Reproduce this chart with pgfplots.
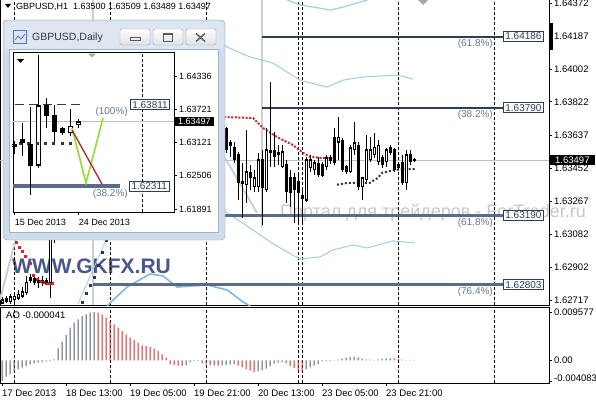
\documentclass[border=0pt]{standalone}
\usepackage{fontspec}
\setmainfont{Liberation Sans}
\usepackage{pgfplots}
\usepackage{pgfplotstable}
\pgfplotsset{compat=1.18}

\definecolor{fibdark}{RGB}{44,62,85}
\definecolor{fiblite}{RGB}{92,106,138}
\definecolor{pctgray}{RGB}{105,120,145}
\definecolor{band}{RGB}{165,203,226}
\definecolor{bandout}{RGB}{128,184,222}
\definecolor{sar}{RGB}{208,40,40}
\definecolor{navy}{RGB}{40,56,82}
\definecolor{aogray}{RGB}{82,92,112}
\definecolor{aored}{RGB}{192,52,52}
\definecolor{trend}{RGB}{208,208,208}
\definecolor{wmblue}{RGB}{72,88,140}
\definecolor{wmgray}{RGB}{200,200,200}
\definecolor{winframe}{RGB}{208,220,234}
\definecolor{wintitle}{RGB}{222,231,241}
\definecolor{winedge}{RGB}{140,160,184}
\definecolor{vgreen}{RGB}{150,220,50}
\definecolor{vred}{RGB}{172,40,40}

\newcommand\fs[1]{\fontsize{#1}{#1}\selectfont}

\tikzset{
  fibbox/.style={anchor=west, draw=fibdark, fill=white, text=fibdark, font=\fs{10},
    inner xsep=2pt, inner ysep=1.5pt, line width=0.8pt},
  fibpct/.style={anchor=north east, inner sep=0pt, yshift=-2.5pt, text=pctgray, font=\fs{10}},
}

% H1 bars (the ones hidden under the daily window are left out)
\pgfplotstableread{
i o h l c
0 1.62701 1.62735 1.62696 1.62718
1 1.62712 1.62740 1.62701 1.62724
2 1.62707 1.62751 1.62696 1.62735
3 1.62718 1.62763 1.62707 1.62740
4 1.62729 1.62774 1.62718 1.62751
5 1.62740 1.62790 1.62729 1.62763
6 1.62757 1.62852 1.62746 1.62818
7 1.62829 1.62863 1.62813 1.62841
8 1.62835 1.62857 1.62802 1.62818
9 1.62824 1.62846 1.62785 1.62813
10 1.62813 1.62852 1.62796 1.62829
11 1.62824 1.62841 1.62802 1.62813
12 1.62813 1.63097 1.62729 1.63075
13 1.63075 1.63275 1.63036 1.63219
56 1.63676 1.63682 1.63538 1.63554
57 1.63593 1.63609 1.63516 1.63581
58 1.63570 1.63598 1.63482 1.63499
59 1.63527 1.63543 1.63275 1.63371
60 1.63376 1.63482 1.63175 1.63365
61 1.63360 1.63665 1.63258 1.63432
62 1.63426 1.63471 1.63332 1.63399
63 1.63348 1.63443 1.63321 1.63399
64 1.63348 1.63538 1.63321 1.63499
65 1.63499 1.63554 1.63136 1.63343
66 1.63332 1.63676 1.63321 1.63554
67 1.63538 1.63932 1.63460 1.63549
68 1.63549 1.63654 1.63460 1.63516
69 1.63527 1.63581 1.63471 1.63538
70 1.63460 1.63581 1.63454 1.63543
71 1.63471 1.63499 1.63258 1.63321
72 1.63399 1.63443 1.63236 1.63315
73 1.63399 1.63426 1.63147 1.63332
74 1.63376 1.63415 1.63147 1.63315
75 1.63298 1.63343 1.63136 1.63286
76 1.63275 1.63516 1.63264 1.63499
77 1.63454 1.63527 1.63432 1.63499
78 1.63443 1.63499 1.63415 1.63482
79 1.63476 1.63516 1.63404 1.63415
80 1.63471 1.63488 1.63404 1.63410
81 1.63460 1.63527 1.63443 1.63510
82 1.63510 1.63527 1.63476 1.63493
83 1.63626 1.63676 1.63471 1.63482
84 1.63598 1.63737 1.63499 1.63626
85 1.63609 1.63620 1.63432 1.63443
86 1.63460 1.63471 1.63421 1.63432
87 1.63432 1.63581 1.63426 1.63566
88 1.63554 1.63710 1.63527 1.63593
89 1.63581 1.63598 1.63332 1.63348
90 1.63348 1.63404 1.63275 1.63399
91 1.63387 1.63637 1.63376 1.63554
92 1.63499 1.63626 1.63488 1.63554
93 1.63527 1.63648 1.63510 1.63570
94 1.63488 1.63609 1.63471 1.63581
95 1.63510 1.63527 1.63454 1.63471
96 1.63488 1.63566 1.63460 1.63554
97 1.63566 1.63581 1.63527 1.63538
98 1.63554 1.63566 1.63432 1.63443
99 1.63471 1.63482 1.63443 1.63454
100 1.63482 1.63527 1.63360 1.63371
101 1.63371 1.63554 1.63332 1.63527
102 1.63527 1.63554 1.63471 1.63488
103 1.63500 1.63509 1.63489 1.63497
}\hone

% daily bars
\pgfplotstableread{
j o h l c
0 1.63031 1.63141 1.62903 1.63068
1 1.63160 1.63472 1.62866 1.63105
2 1.63068 1.63766 1.62149 1.62700
3 1.62700 1.64722 1.62645 1.63785
4 1.63803 1.63932 1.63380 1.63619
5 1.63619 1.63803 1.63123 1.63307
6 1.63362 1.63399 1.63252 1.63289
7 1.63289 1.63730 1.63233 1.63417
8 1.63436 1.63546 1.63380 1.63497
}\daily

% one candle: #1 x, #2 open, #3 high, #4 low, #5 close, #6 body width (pt), #7 hollow width (pt), #8 min hollow body
\newcommand\onecandle[8]{%
  \addplot[black, line width=1pt, forget plot] coordinates {(#1,#4) (#1,#3)};
  \addplot[black, line width=#6pt, forget plot, mark=-, mark size=#6pt/2,
    mark options={line width=1pt}] coordinates {(#1,#2) (#1,#5)};
  \ifdim #5pt>\dimexpr #2pt+#8pt\relax
    \addplot[white, line width=#7pt, forget plot, shorten <=1pt, shorten >=1pt]
      coordinates {(#1,#2) (#1,#5)};
  \fi
}
% #1 table, #2 last row, #3 body width, #4 hollow width, #5 min hollow body
\newcommand\candles[5]{%
  \pgfplotsforeachungrouped \r in {0,...,#2}{%
    \pgfplotstablegetelem{\r}{[index]0}\of#1\let\cx\pgfplotsretval
    \pgfplotstablegetelem{\r}{o}\of#1\let\co\pgfplotsretval
    \pgfplotstablegetelem{\r}{h}\of#1\let\ch\pgfplotsretval
    \pgfplotstablegetelem{\r}{l}\of#1\let\cl\pgfplotsretval
    \pgfplotstablegetelem{\r}{c}\of#1\let\cc\pgfplotsretval
    \edef\temp{\noexpand\onecandle{\cx}{\co}{\ch}{\cl}{\cc}{#3}{#4}{#5}}\temp
  }%
}

\begin{document}
\begin{tikzpicture}[x=1pt,y=1pt]
\useasboundingbox (0,0) rectangle (596,400);
\fill[white] (0,0) rectangle (596,400);

% watermarks
\node[anchor=base west, inner sep=0pt, font=\fs{21}\bfseries, text=wmblue] at (12,127) {WWW.GKFX.RU};
\node[anchor=base west, inner sep=0pt, font=\fs{18}, text=wmgray] at (280,183) {Портал для трейдеров - ForTrader.ru};

% ---------------- H1 price panel ----------------
\begin{axis}[at={(0pt,95pt)}, anchor=south west, scale only axis,
  width=549pt, height=306pt,
  xmin=-0.5, xmax=136.75, ymin=1.62690, ymax=1.64395,
  axis line style={line width=1pt},
  xtick=\empty,
  extra x ticks={3,27,51,74,75,99,123}, extra x tick labels={},
  extra x tick style={grid=major, major tick length=0pt},
  major grid style={black, line width=0.8pt, dash pattern=on 3pt off 2pt},
  scaled y ticks=false,
  ytick={1.62717,1.62902,1.63082,1.63267,1.63452,1.63637,1.63822,1.64002,1.64187,1.64372},
  yticklabels={1.62717,1.62902,1.63082,1.63267,1.63452,1.63637,1.63822,1.64002,1.64187,1.64372},
  ytick pos=right, yticklabel pos=right, tick align=outside, major tick length=3pt,
  ytick style={black, line width=0.8pt},
  yticklabel style={font=\fs{9.5}, anchor=west, inner sep=0pt, xshift=2pt},
]
% current price line
\addplot[black!25, line width=0.8pt] coordinates {(-0.5,1.63497) (136.75,1.63497)};
% tool verticals and trend lines
\addplot[trend, line width=2pt] coordinates {(22.75,1.62690) (22.75,1.64395)};
\addplot[trend, line width=2pt] coordinates {(65,1.64395) (65,1.63119)};
\addplot[trend, line width=2pt] coordinates {(-0.5,1.62718) (4,1.63110)};
\addplot[trend, line width=2pt] coordinates {(55.75,1.63510) (63.75,1.63203)};
% bands
\addplot[band, line width=1pt] coordinates {(55.5,1.64144) (56.25,1.64127) (62,1.64072) (67.75,1.64038) (74.5,1.63943) (81.25,1.63904) (85.25,1.63943) (90.25,1.63960) (98.75,1.63971) (102.75,1.63949)};
\addplot[band, line width=1.2pt] coordinates {(70.25,1.64400) (74.5,1.64361) (79.5,1.64344) (82,1.64333) (85.25,1.64350) (91.25,1.64389) (92.5,1.64400)};
\addplot[band, line width=1pt] coordinates {(55.5,1.63232) (56,1.63208) (62,1.63119) (68.25,1.63024) (74.5,1.62946) (79.5,1.62958) (82.75,1.62997) (87.75,1.63024) (91.25,1.63008) (97.75,1.63047) (103.25,1.63036)};
\addplot[bandout, line width=1.6pt] coordinates {(25.5,1.62640) (26.5,1.62690) (31.25,1.62790) (37,1.62863) (40.25,1.62852) (43.75,1.62790) (51.25,1.62802) (56.25,1.62774) (60.25,1.62707) (62,1.62685)};
\addplot[band, line width=0.8pt] coordinates {(19,1.62696) (26,1.63052) (27,1.63110)};
% Fibonacci levels
\addplot[fibdark, line width=2pt] coordinates {(65,1.64186) (125.25,1.64186)};
\addplot[fibdark, line width=2pt] coordinates {(65,1.63790) (125.25,1.63790)};
\addplot[fiblite, line width=2.5pt] coordinates {(55,1.63190) (125.25,1.63190)};
\addplot[fiblite, line width=2.5pt] coordinates {(22.75,1.62803) (125.25,1.62803)};
% dotted indicators
\addplot[sar, line width=2pt, dash pattern=on 2pt off 1.6pt] coordinates {(55.5,1.63737) (62.75,1.63732) (65.25,1.63676) (68.75,1.63626) (72.75,1.63581) (75.25,1.63538) (77,1.63516) (79.5,1.63510) (83.25,1.63510)};
\addplot[navy, line width=2pt, dash pattern=on 2pt off 2pt] coordinates {(83.75,1.63360) (86.5,1.63371) (92,1.63371) (94,1.63399) (95,1.63426) (98.25,1.63443) (103.25,1.63448)};
\addplot[only marks, mark=square*, mark size=1pt, sar] coordinates {(3.5,1.63041) (4.25,1.63013) (5,1.62991) (5.75,1.62963) (7,1.62924) (7.75,1.62857) (8.75,1.62835) (9.5,1.62824) (10.25,1.62818) (11,1.62813) (11.75,1.62813) (12.5,1.62813)};
\addplot[only marks, mark=square*, mark size=1.1pt, navy] coordinates {(20,1.62707) (21,1.62757) (22,1.62802) (23,1.62846) (24,1.62913) (25,1.62985) (26,1.63052)};
% candles
\candles{\hone}{61}{3}{1}{0.00012}
% level labels
\node[fibbox] at (axis cs:125.25,1.64186) {1.64186};
\node[fibpct] at (axis cs:122.75,1.64186) {(61.8\%)};
\node[fibbox] at (axis cs:125.25,1.63790) {1.63790};
\node[fibpct] at (axis cs:122.75,1.63790) {(38.2\%)};
\node[fibbox] at (axis cs:125.25,1.63190) {1.63190};
\node[fibpct] at (axis cs:122.75,1.63190) {(61.8\%)};
\node[fibbox] at (axis cs:125.25,1.62803) {1.62803};
\node[fibpct] at (axis cs:122.75,1.62803) {(76.4\%)};
\end{axis}

% ---------------- AO panel ----------------
\begin{axis}[at={(0pt,17pt)}, anchor=south west, scale only axis,
  width=549pt, height=76pt,
  xmin=-0.5, xmax=136.75, ymin=-0.00448, ymax=0.01057,
  axis line style={line width=1pt},
  xtick={0,16,32,48,64,80,96},
  xticklabels={17 Dec 2013,18 Dec 13:00,19 Dec 05:00,19 Dec 21:00,20 Dec 13:00,23 Dec 05:00,23 Dec 21:00},
  xtick pos=bottom,
  xticklabel style={font=\fs{9.5}, anchor=north west, inner sep=0pt, yshift=-4pt},
  extra x ticks={3,27,51,74,75,99,123}, extra x tick labels={},
  extra x tick style={grid=major, major tick length=0pt},
  major grid style={black, line width=0.8pt, dash pattern=on 3pt off 2pt},
  scaled y ticks=false,
  ytick={-0.004083,0,0.009577},
  yticklabels={\raisebox{5pt}{-0.004083},0.00,0.009577},
  ytick pos=right, yticklabel pos=right, tick align=outside, major tick length=3pt,
  tick style={black, line width=0.8pt},
  yticklabel style={font=\fs{9.5}, anchor=west, inner sep=0pt, xshift=2pt},
]
\addplot[ybar, bar width=1pt, bar shift=0pt, fill=aogray, draw=none] coordinates {
(0,-0.004083) (1,-0.00323) (2,-0.00277) (3,-0.00232) (4,-0.00178) (5,-0.00145) (6,-0.00113)
(7,-0.00079) (8,-0.00059) (9,-0.00046) (10,-0.00034) (11,-0.00020) (12,-0.00014) (13,0.00020)
(14,0.00238) (15,0.00370) (16,0.00501) (17,0.00647) (18,0.00746) (19,0.00812) (20,0.00877)
(21,0.00911) (22,0.00944) (23,0.009577)
(46,-0.00099) (47,-0.00040) (48,-0.00014) (49,-0.00010)
(55,-0.00099) (56,-0.00093) (57,-0.00079) (58,-0.00073)
(64,-0.00218) (65,-0.00192) (66,-0.00164) (67,-0.00119) (68,-0.00065) (69,-0.00046) (70,-0.00034)
(76,-0.00178) (77,-0.00139) (78,-0.00105) (79,-0.00073) (80,-0.00020) (81,-0.00014) (82,-0.00010)
(83,-0.00006) (84,0.00014) (85,0.00034) (86,0.00053) (87,0.00065) (88,0.00073)
(94,0.00020) (95,0.00034) (96,0.00040) (97,0.00046)};
\addplot[ybar, bar width=1pt, bar shift=0pt, fill=aored, draw=none] coordinates {
(24,0.00944) (25,0.00911) (26,0.00845) (27,0.00778) (28,0.00713) (29,0.00647) (30,0.00580)
(31,0.00515) (32,0.00449) (33,0.00402) (34,0.00350) (35,0.00297) (36,0.00283) (37,0.00263)
(38,0.00232) (39,0.00184) (40,0.00119) (41,0.00053) (42,-0.00079) (43,-0.00093) (44,-0.00105)
(45,-0.00113)
(50,-0.00059) (51,-0.00079) (52,-0.00093) (53,-0.00099) (54,-0.00105)
(59,-0.00105) (60,-0.00139) (61,-0.00172) (62,-0.00204) (63,-0.00232)
(71,-0.00059) (72,-0.00113) (73,-0.00152) (74,-0.00192) (75,-0.00218)
(89,0.00059) (90,0.00034) (91,0.00020) (92,0.00014) (93,0.00010)
(98,0.00040) (99,0.00030) (100,0.00014) (101,0.00006) (102,0.00004) (103,-0.000041)};
\end{axis}

% header, price box and panel label
\fill (5,396) -- (11,396) -- (8,392) -- cycle;
\node[anchor=west, inner sep=0pt, font=\fs{9}] at (16,393) {GBPUSD,H1\ \ 1.63500 1.63509 1.63489 1.63497};
\fill[black!35] (418,400) -- (428,400) -- (423,395) -- cycle;
\fill (549,350) rectangle (552.5,377);
\node[anchor=west, fill=black, text=white, font=\fs{9.5}, inner xsep=5.5pt, inner ysep=1.5pt] at (549.5,240) {1.63497};
\node[anchor=west, inner sep=0pt, font=\fs{9.5}] at (6,85) {AO -0.000041};

% ---------------- daily window ----------------
\fill[winframe, draw=winedge, rounded corners=4pt] (3,160) rectangle (225,380);
\fill[wintitle, rounded corners=3pt] (4.5,351) rectangle (223.5,378.5);
\fill[white, draw=winedge!80] (9.5,167.5) rectangle (218.5,350.5);
\draw[winedge!70!blue, line width=0.8pt] (13.5,356.5) rectangle (26.5,369.5);
\draw[winedge!70!blue, line width=0.8pt] (15,360) -- (18,364) -- (21,361) -- (25,366);
\node[anchor=west, inner sep=0pt, font=\fs{10.5}, text=black!78] at (32,362) {GBPUSD,Daily};
\foreach \bx in {120,153,186} {
  \draw[top color=white, bottom color=black!12, draw=winedge, rounded corners=2pt] (\bx,355) rectangle ++(30,16);
}
\draw[line width=1pt, black!65] (130,359.5) rectangle (140,362.5);
\draw[line width=1pt, black!65] (163.5,358.5) rectangle (172.5,366.5);
\draw[line width=1.5pt, black!65] (163.5,365.5) -- (172.5,365.5);
\draw[line width=1.6pt, black!60] (196,358.5) -- (205,366.5) (196,366.5) -- (205,358.5);

\begin{axis}[at={(13pt,188pt)}, anchor=south west, scale only axis,
  width=161pt, height=159pt,
  xmin=-0.2125, xmax=19.9125, ymin=1.61836, ymax=1.64759,
  axis line style={line width=1pt},
  xtick={0,8}, xticklabels={15 Dec 2013,24 Dec 2013},
  xtick pos=bottom,
  xticklabel style={font=\fs{9}, anchor=north west, inner sep=0pt, yshift=-4pt},
  extra x ticks={16}, extra x tick labels={},
  extra x tick style={grid=major, major tick length=0pt},
  major grid style={black, line width=0.8pt, dash pattern=on 3pt off 2pt},
  scaled y ticks=false,
  ytick={1.61891,1.62506,1.63121,1.63721,1.64336},
  yticklabels={1.61891,1.62506,1.63121,1.63721,1.64336},
  ytick pos=right, yticklabel pos=right, tick align=outside, major tick length=3pt,
  tick style={black, line width=0.8pt},
  yticklabel style={font=\fs{9}, anchor=west, inner sep=0pt, xshift=2pt},
]
\addplot[black!25, line width=0.8pt] coordinates {(-0.2125,1.63497) (19.9125,1.63497)};
\addplot[fibdark, line width=1pt, dash pattern=on 9pt off 5pt] coordinates {(0.04,1.63811) (8.2,1.63811)};
\addplot[fiblite, line width=4pt] coordinates {(-0.2125,1.62311) (13.2,1.62311)};
\addplot[only marks, mark=square*, mark size=1.1pt, navy] coordinates {(0.66,1.63105) (1.66,1.63105) (2.79,1.63105) (3.79,1.63105) (4.79,1.63105) (5.91,1.63105) (6.91,1.63105)};
\candles{\daily}{8}{5}{3}{0.0004}
\addplot[vgreen, line width=1.6pt] coordinates {(7.16,1.63380) (8.91,1.62369) (11.04,1.63564)};
\addplot[vred, line width=1.3pt] coordinates {(7.16,1.63344) (10.91,1.62351)};
\node[fibbox] at (axis cs:14.4,1.63811) {1.63811};
\node[fibpct] at (axis cs:14.16,1.63811) {(100\%)};
\node[fibbox] at (axis cs:14.3,1.62311) {1.62311};
\node[fibpct] at (axis cs:14.16,1.62311) {(38.2\%)};
\end{axis}
\fill (17,341) -- (24,341) -- (20.5,337) -- cycle;
\fill[black!35] (88,346.5) -- (96,346.5) -- (92,342.5) -- cycle;
\node[anchor=west, fill=black, text=white, font=\fs{9}, inner xsep=3.5pt, inner ysep=1.5pt] at (174.5,278.3) {1.63497};
\end{tikzpicture}
\end{document}
